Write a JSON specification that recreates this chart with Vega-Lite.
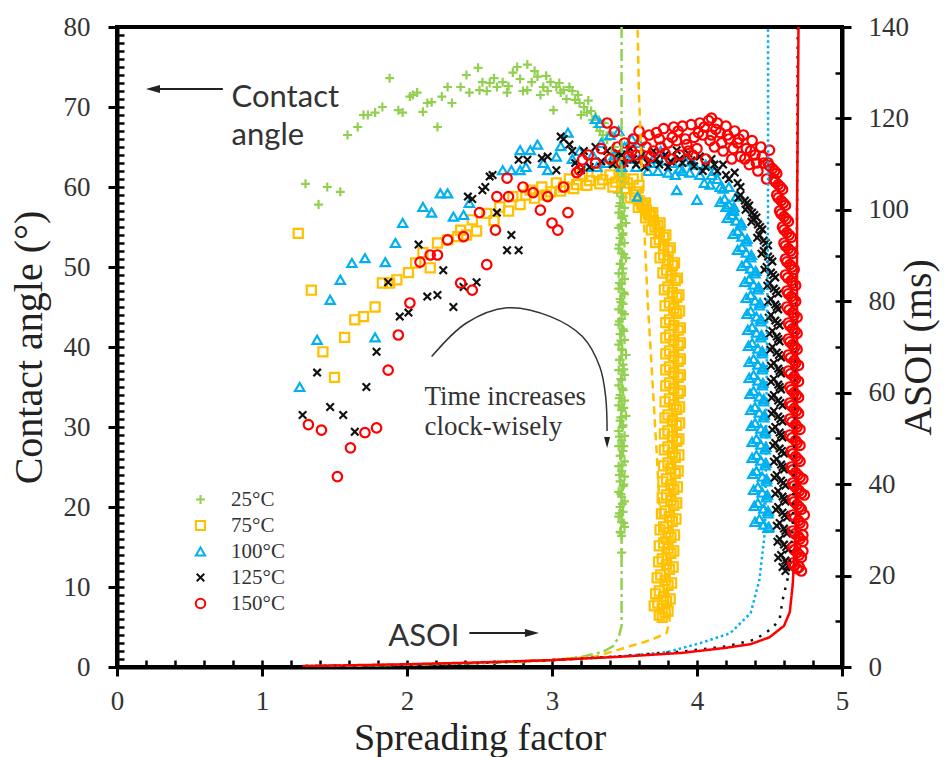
{
  "$schema": "https://vega.github.io/schema/vega-lite/v6.json",
  "width": 725,
  "height": 640,
  "autosize": {"type": "none"},
  "padding": {"left": 117, "top": 27, "right": 102, "bottom": 90},
  "background": "white",
  "config": {
    "view": {"stroke": "#000", "strokeWidth": 4},
    "axis": {
      "grid": false,
      "domainColor": "#000",
      "domainWidth": 4,
      "tickColor": "#000",
      "tickWidth": 3,
      "labelFont": "Liberation Serif",
      "labelFontSize": 27,
      "labelColor": "#333",
      "titleFont": "Liberation Serif",
      "titleFontSize": 40,
      "titleFontWeight": "normal",
      "titleColor": "#222"
    }
  },
  "datasets": {
    "pts": [
      {"T":"25°C","x":1.30,"y":60.4},{"T":"25°C","x":1.45,"y":60.0},{"T":"25°C","x":1.54,"y":59.4},{"T":"25°C","x":1.39,"y":57.8},
      {"T":"25°C","x":1.59,"y":66.5},{"T":"25°C","x":1.66,"y":67.5},{"T":"25°C","x":1.70,"y":69.0},{"T":"25°C","x":1.73,"y":69.0},{"T":"25°C","x":1.78,"y":69.3},{"T":"25°C","x":1.83,"y":70.0},{"T":"25°C","x":1.88,"y":73.6},{"T":"25°C","x":1.94,"y":69.6},{"T":"25°C","x":1.97,"y":69.3},{"T":"25°C","x":2.02,"y":71.3},{"T":"25°C","x":2.04,"y":71.5},{"T":"25°C","x":2.07,"y":71.8},{"T":"25°C","x":2.11,"y":69.4},{"T":"25°C","x":2.14,"y":70.5},{"T":"25°C","x":2.17,"y":70.6},{"T":"25°C","x":2.21,"y":67.5},{"T":"25°C","x":2.24,"y":71.3},{"T":"25°C","x":2.28,"y":72.5},{"T":"25°C","x":2.31,"y":70.5},{"T":"25°C","x":2.37,"y":72.5},{"T":"25°C","x":2.41,"y":74.0},{"T":"25°C","x":2.43,"y":71.8},{"T":"25°C","x":2.49,"y":74.9},{"T":"25°C","x":2.50,"y":72.1},{"T":"25°C","x":2.52,"y":73.1},{"T":"25°C","x":2.55,"y":72.0},{"T":"25°C","x":2.57,"y":73.0},{"T":"25°C","x":2.60,"y":73.6},{"T":"25°C","x":2.62,"y":72.5},{"T":"25°C","x":2.66,"y":73.1},{"T":"25°C","x":2.69,"y":71.8},{"T":"25°C","x":2.70,"y":72.6},{"T":"25°C","x":2.73,"y":74.3},{"T":"25°C","x":2.76,"y":75.0},{"T":"25°C","x":2.78,"y":73.5},{"T":"25°C","x":2.80,"y":72.0},{"T":"25°C","x":2.83,"y":75.3},{"T":"25°C","x":2.83,"y":72.1},{"T":"25°C","x":2.86,"y":73.1},{"T":"25°C","x":2.88,"y":74.5},{"T":"25°C","x":2.90,"y":73.8},{"T":"25°C","x":2.92,"y":71.5},{"T":"25°C","x":2.94,"y":72.5},{"T":"25°C","x":2.96,"y":73.9},{"T":"25°C","x":2.97,"y":72.0},{"T":"25°C","x":2.99,"y":73.1},{"T":"25°C","x":3.01,"y":69.6},{"T":"25°C","x":3.03,"y":72.5},{"T":"25°C","x":3.05,"y":73.0},{"T":"25°C","x":3.06,"y":71.8},{"T":"25°C","x":3.08,"y":72.1},{"T":"25°C","x":3.10,"y":71.0},{"T":"25°C","x":3.12,"y":72.5},{"T":"25°C","x":3.14,"y":72.0},{"T":"25°C","x":3.16,"y":70.9},{"T":"25°C","x":3.18,"y":71.5},{"T":"25°C","x":3.19,"y":70.5},{"T":"25°C","x":3.20,"y":69.0},{"T":"25°C","x":3.22,"y":70.0},{"T":"25°C","x":3.24,"y":69.3},{"T":"25°C","x":3.25,"y":70.8},{"T":"25°C","x":3.27,"y":69.5},{"T":"25°C","x":3.28,"y":68.4},{"T":"25°C","x":3.30,"y":68.8},{"T":"25°C","x":3.31,"y":67.5},{"T":"25°C","x":3.33,"y":67.0},{"T":"25°C","x":3.35,"y":66.5},{"T":"25°C","x":3.36,"y":68.0},{"T":"25°C","x":3.38,"y":65.9},{"T":"25°C","x":3.40,"y":66.8},{"T":"25°C","x":3.41,"y":64.2},{"T":"25°C","x":3.42,"y":63.4},{"T":"25°C","x":3.43,"y":65.0},
      {"T":"25°C","x":3.45,"y":64.0},{"T":"25°C","x":3.47,"y":63.2},{"T":"25°C","x":3.44,"y":62.5},{"T":"25°C","x":3.49,"y":62.0},{"T":"25°C","x":3.46,"y":61.2},{"T":"25°C","x":3.50,"y":60.6},{"T":"25°C","x":3.47,"y":60.0},{"T":"25°C","x":3.45,"y":59.3},{"T":"25°C","x":3.49,"y":58.7},{"T":"25°C","x":3.47,"y":58.0},{"T":"25°C","x":3.50,"y":57.4},{"T":"25°C","x":3.46,"y":56.8},{"T":"25°C","x":3.48,"y":56.1},{"T":"25°C","x":3.51,"y":55.5},{"T":"25°C","x":3.46,"y":54.9},{"T":"25°C","x":3.49,"y":54.2},{"T":"25°C","x":3.47,"y":53.6},{"T":"25°C","x":3.50,"y":53.0},{"T":"25°C","x":3.46,"y":52.3},{"T":"25°C","x":3.48,"y":51.7},{"T":"25°C","x":3.51,"y":51.1},{"T":"25°C","x":3.47,"y":50.4},{"T":"25°C","x":3.49,"y":49.8},{"T":"25°C","x":3.46,"y":49.2},{"T":"25°C","x":3.50,"y":48.5},{"T":"25°C","x":3.48,"y":47.9},{"T":"25°C","x":3.46,"y":47.3},{"T":"25°C","x":3.50,"y":46.6},{"T":"25°C","x":3.47,"y":46.0},{"T":"25°C","x":3.49,"y":45.4},{"T":"25°C","x":3.46,"y":44.7},{"T":"25°C","x":3.50,"y":44.1},{"T":"25°C","x":3.48,"y":43.5},{"T":"25°C","x":3.46,"y":42.8},{"T":"25°C","x":3.49,"y":42.2},{"T":"25°C","x":3.47,"y":41.6},{"T":"25°C","x":3.50,"y":40.9},{"T":"25°C","x":3.46,"y":40.3},{"T":"25°C","x":3.48,"y":39.7},{"T":"25°C","x":3.51,"y":39.0},{"T":"25°C","x":3.47,"y":38.4},{"T":"25°C","x":3.49,"y":37.8},{"T":"25°C","x":3.46,"y":37.1},{"T":"25°C","x":3.50,"y":36.5},{"T":"25°C","x":3.48,"y":35.9},{"T":"25°C","x":3.46,"y":35.2},{"T":"25°C","x":3.49,"y":34.6},{"T":"25°C","x":3.47,"y":34.0},{"T":"25°C","x":3.50,"y":33.3},{"T":"25°C","x":3.46,"y":32.7},{"T":"25°C","x":3.48,"y":32.1},{"T":"25°C","x":3.51,"y":31.4},{"T":"25°C","x":3.47,"y":30.8},{"T":"25°C","x":3.49,"y":30.2},{"T":"25°C","x":3.46,"y":29.5},{"T":"25°C","x":3.50,"y":28.9},{"T":"25°C","x":3.48,"y":28.3},{"T":"25°C","x":3.46,"y":27.6},{"T":"25°C","x":3.49,"y":27.0},{"T":"25°C","x":3.47,"y":26.4},{"T":"25°C","x":3.50,"y":25.7},{"T":"25°C","x":3.46,"y":25.1},{"T":"25°C","x":3.48,"y":24.5},{"T":"25°C","x":3.50,"y":23.8},{"T":"25°C","x":3.47,"y":23.2},{"T":"25°C","x":3.49,"y":22.6},{"T":"25°C","x":3.46,"y":21.9},{"T":"25°C","x":3.48,"y":21.3},{"T":"25°C","x":3.50,"y":20.7},{"T":"25°C","x":3.47,"y":20.0},{"T":"25°C","x":3.49,"y":19.4},{"T":"25°C","x":3.46,"y":18.8},{"T":"25°C","x":3.48,"y":18.1},{"T":"25°C","x":3.50,"y":17.5},{"T":"25°C","x":3.47,"y":16.9},{"T":"25°C","x":3.48,"y":16.4},{"T":"25°C","x":3.48,"y":14.3},
      {"T":"25°C","x":3.485,"y":63.6},{"T":"25°C","x":3.465,"y":62.4},{"T":"25°C","x":3.495,"y":61.2},{"T":"25°C","x":3.475,"y":60.0},{"T":"25°C","x":3.485,"y":58.8},{"T":"25°C","x":3.465,"y":57.6},{"T":"25°C","x":3.495,"y":56.4},{"T":"25°C","x":3.475,"y":55.2},{"T":"25°C","x":3.485,"y":54.0},{"T":"25°C","x":3.465,"y":52.8},{"T":"25°C","x":3.495,"y":51.6},{"T":"25°C","x":3.475,"y":50.4},{"T":"25°C","x":3.485,"y":49.2},{"T":"25°C","x":3.465,"y":48.0},{"T":"25°C","x":3.495,"y":46.8},{"T":"25°C","x":3.475,"y":45.6},{"T":"25°C","x":3.485,"y":44.4},{"T":"25°C","x":3.465,"y":43.2},{"T":"25°C","x":3.495,"y":42.0},{"T":"25°C","x":3.475,"y":40.8},{"T":"25°C","x":3.485,"y":39.6},{"T":"25°C","x":3.465,"y":38.4},{"T":"25°C","x":3.495,"y":37.2},{"T":"25°C","x":3.475,"y":36.0},{"T":"25°C","x":3.485,"y":34.8},{"T":"25°C","x":3.465,"y":33.6},{"T":"25°C","x":3.495,"y":32.4},{"T":"25°C","x":3.475,"y":31.2},{"T":"25°C","x":3.485,"y":30.0},{"T":"25°C","x":3.465,"y":28.8},{"T":"25°C","x":3.495,"y":27.6},{"T":"25°C","x":3.475,"y":26.4},{"T":"25°C","x":3.485,"y":25.2},{"T":"25°C","x":3.465,"y":24.0},{"T":"25°C","x":3.495,"y":22.8},{"T":"25°C","x":3.475,"y":21.6},{"T":"25°C","x":3.485,"y":20.4},{"T":"25°C","x":3.465,"y":19.2},{"T":"25°C","x":3.495,"y":18.0},{"T":"25°C","x":3.475,"y":16.8},

      {"T":"75°C","x":1.25,"y":54.2},{"T":"75°C","x":1.34,"y":47.1},{"T":"75°C","x":1.42,"y":39.4},{"T":"75°C","x":1.50,"y":36.2},{"T":"75°C","x":1.57,"y":41.2},{"T":"75°C","x":1.64,"y":43.4},{"T":"75°C","x":1.70,"y":43.8},{"T":"75°C","x":1.78,"y":45.0},{"T":"75°C","x":1.83,"y":48.0},{"T":"75°C","x":1.88,"y":48.0},{"T":"75°C","x":1.93,"y":48.4},{"T":"75°C","x":2.01,"y":49.3},{"T":"75°C","x":2.06,"y":50.5},{"T":"75°C","x":2.11,"y":51.8},{"T":"75°C","x":2.16,"y":49.9},{"T":"75°C","x":2.21,"y":53.0},{"T":"75°C","x":2.28,"y":53.4},{"T":"75°C","x":2.35,"y":53.8},{"T":"75°C","x":2.41,"y":54.0},
      {"T":"75°C","x":2.37,"y":54.6},{"T":"75°C","x":2.45,"y":55.9},{"T":"75°C","x":2.48,"y":54.5},{"T":"75°C","x":2.55,"y":56.7},{"T":"75°C","x":2.60,"y":55.8},{"T":"75°C","x":2.64,"y":57.5},{"T":"75°C","x":2.70,"y":57.0},{"T":"75°C","x":2.73,"y":58.8},{"T":"75°C","x":2.78,"y":57.8},{"T":"75°C","x":2.82,"y":59.0},{"T":"75°C","x":2.85,"y":59.6},{"T":"75°C","x":2.88,"y":58.6},{"T":"75°C","x":2.93,"y":60.0},{"T":"75°C","x":2.96,"y":59.0},{"T":"75°C","x":2.99,"y":59.4},{"T":"75°C","x":3.03,"y":60.5},{"T":"75°C","x":3.06,"y":59.5},{"T":"75°C","x":3.08,"y":60.0},{"T":"75°C","x":3.12,"y":61.0},{"T":"75°C","x":3.15,"y":59.8},{"T":"75°C","x":3.17,"y":60.3},{"T":"75°C","x":3.21,"y":61.6},{"T":"75°C","x":3.24,"y":60.2},{"T":"75°C","x":3.26,"y":60.8},{"T":"75°C","x":3.31,"y":61.8},{"T":"75°C","x":3.33,"y":60.4},{"T":"75°C","x":3.35,"y":60.9},{"T":"75°C","x":3.40,"y":61.5},{"T":"75°C","x":3.42,"y":60.0},{"T":"75°C","x":3.44,"y":60.6},{"T":"75°C","x":3.48,"y":61.3},{"T":"75°C","x":3.50,"y":59.8},{"T":"75°C","x":3.52,"y":60.5},{"T":"75°C","x":3.56,"y":61.0},{"T":"75°C","x":3.58,"y":59.4},{"T":"75°C","x":3.60,"y":60.2},
      {"T":"75°C","x":3.57,"y":59.0},{"T":"75°C","x":3.60,"y":58.3},{"T":"75°C","x":3.63,"y":57.7},
      {"T":"75°C","x":3.62,"y":57.8},{"T":"75°C","x":3.65,"y":57.1},{"T":"75°C","x":3.68,"y":56.5},
      {"T":"75°C","x":3.67,"y":56.5},{"T":"75°C","x":3.70,"y":55.8},{"T":"75°C","x":3.73,"y":55.2},
      {"T":"75°C","x":3.71,"y":55.0},{"T":"75°C","x":3.74,"y":54.3},{"T":"75°C","x":3.77,"y":53.7},
      {"T":"75°C","x":3.74,"y":53.4},{"T":"75°C","x":3.77,"y":52.7},{"T":"75°C","x":3.80,"y":52.1},
      {"T":"75°C","x":3.77,"y":51.5},{"T":"75°C","x":3.80,"y":50.8},{"T":"75°C","x":3.83,"y":50.2},
      {"T":"75°C","x":3.79,"y":49.6},{"T":"75°C","x":3.82,"y":48.9},{"T":"75°C","x":3.85,"y":48.3},
      {"T":"75°C","x":3.80,"y":47.5},{"T":"75°C","x":3.83,"y":46.8},{"T":"75°C","x":3.86,"y":46.2},
      {"T":"75°C","x":3.81,"y":45.5},{"T":"75°C","x":3.84,"y":44.8},{"T":"75°C","x":3.86,"y":44.2},
      {"T":"75°C","x":3.81,"y":43.4},{"T":"75°C","x":3.84,"y":42.7},{"T":"75°C","x":3.87,"y":42.1},
      {"T":"75°C","x":3.81,"y":41.5},{"T":"75°C","x":3.84,"y":40.8},{"T":"75°C","x":3.87,"y":40.2},
      {"T":"75°C","x":3.81,"y":39.5},{"T":"75°C","x":3.84,"y":38.8},{"T":"75°C","x":3.87,"y":38.2},
      {"T":"75°C","x":3.81,"y":37.5},{"T":"75°C","x":3.84,"y":36.8},{"T":"75°C","x":3.87,"y":36.2},
      {"T":"75°C","x":3.81,"y":35.5},{"T":"75°C","x":3.84,"y":34.8},{"T":"75°C","x":3.87,"y":34.2},
      {"T":"75°C","x":3.81,"y":33.5},{"T":"75°C","x":3.84,"y":32.8},{"T":"75°C","x":3.86,"y":32.2},
      {"T":"75°C","x":3.80,"y":31.5},{"T":"75°C","x":3.83,"y":30.8},{"T":"75°C","x":3.86,"y":30.2},
      {"T":"75°C","x":3.80,"y":29.5},{"T":"75°C","x":3.83,"y":28.8},{"T":"75°C","x":3.86,"y":28.2},
      {"T":"75°C","x":3.80,"y":27.5},{"T":"75°C","x":3.83,"y":26.8},{"T":"75°C","x":3.85,"y":26.2},
      {"T":"75°C","x":3.80,"y":25.5},{"T":"75°C","x":3.82,"y":24.8},{"T":"75°C","x":3.85,"y":24.2},
      {"T":"75°C","x":3.79,"y":23.5},{"T":"75°C","x":3.82,"y":22.8},{"T":"75°C","x":3.84,"y":22.2},
      {"T":"75°C","x":3.79,"y":21.5},{"T":"75°C","x":3.82,"y":20.8},{"T":"75°C","x":3.84,"y":20.2},
      {"T":"75°C","x":3.78,"y":19.5},{"T":"75°C","x":3.81,"y":18.8},{"T":"75°C","x":3.83,"y":18.2},
      {"T":"75°C","x":3.77,"y":17.5},{"T":"75°C","x":3.80,"y":16.8},{"T":"75°C","x":3.82,"y":16.2},
      {"T":"75°C","x":3.77,"y":15.5},{"T":"75°C","x":3.80,"y":14.8},{"T":"75°C","x":3.82,"y":14.2},
      {"T":"75°C","x":3.76,"y":13.5},{"T":"75°C","x":3.79,"y":12.8},{"T":"75°C","x":3.81,"y":12.2},
      {"T":"75°C","x":3.75,"y":11.5},{"T":"75°C","x":3.78,"y":10.8},{"T":"75°C","x":3.80,"y":10.2},
      {"T":"75°C","x":3.74,"y":9.5},{"T":"75°C","x":3.77,"y":8.8},{"T":"75°C","x":3.79,"y":8.2},
      {"T":"75°C","x":3.73,"y":8.0},{"T":"75°C","x":3.76,"y":7.3},{"T":"75°C","x":3.78,"y":6.8},
      {"T":"75°C","x":3.74,"y":6.5},{"T":"75°C","x":3.76,"y":6.2},
      {"T":"75°C","x":3.54,"y":58.65},{"T":"75°C","x":3.645,"y":58.0},{"T":"75°C","x":3.595,"y":57.45},{"T":"75°C","x":3.695,"y":56.8},{"T":"75°C","x":3.645,"y":56.15},{"T":"75°C","x":3.745,"y":55.5},{"T":"75°C","x":3.685,"y":54.65},{"T":"75°C","x":3.785,"y":54.0},{"T":"75°C","x":3.715,"y":53.05},{"T":"75°C","x":3.815,"y":52.4},{"T":"75°C","x":3.745,"y":51.15},{"T":"75°C","x":3.845,"y":50.5},{"T":"75°C","x":3.765,"y":49.25},{"T":"75°C","x":3.865,"y":48.6},{"T":"75°C","x":3.775,"y":47.15},{"T":"75°C","x":3.875,"y":46.5},{"T":"75°C","x":3.78,"y":45.15},{"T":"75°C","x":3.88,"y":44.5},{"T":"75°C","x":3.785,"y":43.05},{"T":"75°C","x":3.885,"y":42.4},{"T":"75°C","x":3.785,"y":41.15},{"T":"75°C","x":3.885,"y":40.5},{"T":"75°C","x":3.785,"y":39.15},{"T":"75°C","x":3.885,"y":38.5},{"T":"75°C","x":3.785,"y":37.15},{"T":"75°C","x":3.885,"y":36.5},{"T":"75°C","x":3.785,"y":35.15},{"T":"75°C","x":3.885,"y":34.5},{"T":"75°C","x":3.78,"y":33.15},{"T":"75°C","x":3.88,"y":32.5},{"T":"75°C","x":3.78,"y":31.15},{"T":"75°C","x":3.88,"y":30.5},{"T":"75°C","x":3.775,"y":29.15},{"T":"75°C","x":3.875,"y":28.5},{"T":"75°C","x":3.775,"y":27.15},{"T":"75°C","x":3.875,"y":26.5},{"T":"75°C","x":3.77,"y":25.15},{"T":"75°C","x":3.87,"y":24.5},{"T":"75°C","x":3.765,"y":23.15},{"T":"75°C","x":3.865,"y":22.5},{"T":"75°C","x":3.76,"y":21.15},{"T":"75°C","x":3.86,"y":20.5},{"T":"75°C","x":3.755,"y":19.15},{"T":"75°C","x":3.855,"y":18.5},{"T":"75°C","x":3.745,"y":17.15},{"T":"75°C","x":3.845,"y":16.5},{"T":"75°C","x":3.74,"y":15.15},{"T":"75°C","x":3.84,"y":14.5},{"T":"75°C","x":3.735,"y":13.15},{"T":"75°C","x":3.835,"y":12.5},{"T":"75°C","x":3.725,"y":11.15},{"T":"75°C","x":3.825,"y":10.5},{"T":"75°C","x":3.715,"y":9.15},{"T":"75°C","x":3.815,"y":8.5},{"T":"75°C","x":3.705,"y":7.65},{"T":"75°C","x":3.80,"y":7.0},

      {"T":"100°C","x":1.26,"y":35.0},{"T":"100°C","x":1.38,"y":40.9},{"T":"100°C","x":1.47,"y":45.9},{"T":"100°C","x":1.54,"y":48.4},{"T":"100°C","x":1.62,"y":50.5},{"T":"100°C","x":1.71,"y":51.1},{"T":"100°C","x":1.78,"y":41.2},{"T":"100°C","x":1.85,"y":50.6},{"T":"100°C","x":1.92,"y":53.0},{"T":"100°C","x":1.97,"y":55.5},{"T":"100°C","x":2.11,"y":57.5},{"T":"100°C","x":2.17,"y":56.8},{"T":"100°C","x":2.23,"y":59.2},{"T":"100°C","x":2.28,"y":59.2},{"T":"100°C","x":2.32,"y":56.3},{"T":"100°C","x":2.39,"y":56.5},{"T":"100°C","x":2.43,"y":58.0},{"T":"100°C","x":2.66,"y":62.1},{"T":"100°C","x":2.72,"y":62.1},{"T":"100°C","x":2.78,"y":62.1},{"T":"100°C","x":2.78,"y":64.6},{"T":"100°C","x":2.85,"y":64.6},{"T":"100°C","x":2.82,"y":62.5},{"T":"100°C","x":2.90,"y":65.3},{"T":"100°C","x":2.94,"y":63.0},{"T":"100°C","x":2.97,"y":62.1},{"T":"100°C","x":3.03,"y":63.8},{"T":"100°C","x":3.06,"y":65.1},{"T":"100°C","x":3.11,"y":66.8},{"T":"100°C","x":3.14,"y":63.5},{"T":"100°C","x":3.19,"y":64.5},
      {"T":"100°C","x":3.24,"y":62.5},{"T":"100°C","x":3.28,"y":64.0},{"T":"100°C","x":3.30,"y":68.5},{"T":"100°C","x":3.31,"y":62.5},{"T":"100°C","x":3.33,"y":68.0},{"T":"100°C","x":3.34,"y":65.5},{"T":"100°C","x":3.37,"y":63.0},{"T":"100°C","x":3.40,"y":66.5},{"T":"100°C","x":3.43,"y":64.0},{"T":"100°C","x":3.46,"y":67.0},{"T":"100°C","x":3.48,"y":62.5},{"T":"100°C","x":3.50,"y":65.0},{"T":"100°C","x":3.52,"y":63.5},{"T":"100°C","x":3.55,"y":66.0},{"T":"100°C","x":3.59,"y":58.8},{"T":"100°C","x":3.58,"y":62.5},{"T":"100°C","x":3.62,"y":64.0},{"T":"100°C","x":3.66,"y":62.0},{"T":"100°C","x":3.70,"y":63.5},{"T":"100°C","x":3.73,"y":62.0},{"T":"100°C","x":3.77,"y":63.3},{"T":"100°C","x":3.80,"y":61.8},{"T":"100°C","x":3.83,"y":63.0},{"T":"100°C","x":3.86,"y":59.6},{"T":"100°C","x":3.88,"y":62.3},{"T":"100°C","x":3.92,"y":63.2},{"T":"100°C","x":3.95,"y":61.8},{"T":"100°C","x":4.00,"y":58.4},{"T":"100°C","x":3.98,"y":62.8},{"T":"100°C","x":4.02,"y":61.5},{"T":"100°C","x":4.06,"y":62.8},{"T":"100°C","x":4.09,"y":60.3},{"T":"100°C","x":4.12,"y":62.0},{"T":"100°C","x":4.14,"y":61.0},{"T":"100°C","x":4.18,"y":59.8},{"T":"100°C","x":4.20,"y":57.5},{"T":"100°C","x":4.22,"y":60.0},{"T":"100°C","x":4.25,"y":57.0},{"T":"100°C","x":4.27,"y":58.8},
      {"T":"100°C","x":3.60,"y":65.5},{"T":"100°C","x":3.68,"y":63.0},{"T":"100°C","x":3.75,"y":64.5},{"T":"100°C","x":3.85,"y":61.5},{"T":"100°C","x":3.90,"y":62.0},{"T":"100°C","x":4.05,"y":60.5},{"T":"100°C","x":4.10,"y":61.5},{"T":"100°C","x":4.16,"y":60.0},
      {"T":"100°C","x":4.19,"y":58.5},{"T":"100°C","x":4.22,"y":57.8},{"T":"100°C","x":4.25,"y":57.2},
      {"T":"100°C","x":4.24,"y":56.5},{"T":"100°C","x":4.27,"y":55.8},{"T":"100°C","x":4.30,"y":55.2},
      {"T":"100°C","x":4.28,"y":54.5},{"T":"100°C","x":4.31,"y":53.8},{"T":"100°C","x":4.34,"y":53.2},
      {"T":"100°C","x":4.31,"y":52.5},{"T":"100°C","x":4.34,"y":51.8},{"T":"100°C","x":4.37,"y":51.2},
      {"T":"100°C","x":4.34,"y":50.5},{"T":"100°C","x":4.37,"y":49.8},{"T":"100°C","x":4.40,"y":49.2},
      {"T":"100°C","x":4.36,"y":48.5},{"T":"100°C","x":4.39,"y":47.8},{"T":"100°C","x":4.42,"y":47.2},
      {"T":"100°C","x":4.37,"y":46.5},{"T":"100°C","x":4.40,"y":45.8},{"T":"100°C","x":4.43,"y":45.2},
      {"T":"100°C","x":4.37,"y":44.5},{"T":"100°C","x":4.41,"y":43.8},{"T":"100°C","x":4.44,"y":43.2},
      {"T":"100°C","x":4.38,"y":42.5},{"T":"100°C","x":4.41,"y":41.8},{"T":"100°C","x":4.44,"y":41.2},
      {"T":"100°C","x":4.38,"y":40.5},{"T":"100°C","x":4.42,"y":39.8},{"T":"100°C","x":4.45,"y":39.2},
      {"T":"100°C","x":4.39,"y":38.5},{"T":"100°C","x":4.42,"y":37.8},{"T":"100°C","x":4.45,"y":37.2},
      {"T":"100°C","x":4.39,"y":36.5},{"T":"100°C","x":4.42,"y":35.8},{"T":"100°C","x":4.45,"y":35.2},
      {"T":"100°C","x":4.39,"y":34.5},{"T":"100°C","x":4.43,"y":33.8},{"T":"100°C","x":4.46,"y":33.2},
      {"T":"100°C","x":4.40,"y":32.5},{"T":"100°C","x":4.43,"y":31.8},{"T":"100°C","x":4.46,"y":31.2},
      {"T":"100°C","x":4.40,"y":30.5},{"T":"100°C","x":4.44,"y":29.8},{"T":"100°C","x":4.47,"y":29.2},
      {"T":"100°C","x":4.41,"y":28.5},{"T":"100°C","x":4.44,"y":27.8},{"T":"100°C","x":4.47,"y":27.2},
      {"T":"100°C","x":4.41,"y":26.5},{"T":"100°C","x":4.44,"y":25.8},{"T":"100°C","x":4.47,"y":25.2},
      {"T":"100°C","x":4.41,"y":24.5},{"T":"100°C","x":4.45,"y":23.8},{"T":"100°C","x":4.48,"y":23.2},
      {"T":"100°C","x":4.42,"y":22.5},{"T":"100°C","x":4.45,"y":21.8},{"T":"100°C","x":4.48,"y":21.2},
      {"T":"100°C","x":4.42,"y":20.5},{"T":"100°C","x":4.46,"y":19.8},{"T":"100°C","x":4.49,"y":19.2},
      {"T":"100°C","x":4.43,"y":18.5},{"T":"100°C","x":4.46,"y":17.8},{"T":"100°C","x":4.49,"y":17.4},
      {"T":"100°C","x":4.16,"y":58.15},{"T":"100°C","x":4.255,"y":57.5},{"T":"100°C","x":4.21,"y":56.15},{"T":"100°C","x":4.305,"y":55.5},{"T":"100°C","x":4.25,"y":54.15},{"T":"100°C","x":4.345,"y":53.5},{"T":"100°C","x":4.28,"y":52.15},{"T":"100°C","x":4.375,"y":51.5},{"T":"100°C","x":4.31,"y":50.15},{"T":"100°C","x":4.405,"y":49.5},{"T":"100°C","x":4.33,"y":48.15},{"T":"100°C","x":4.425,"y":47.5},{"T":"100°C","x":4.34,"y":46.15},{"T":"100°C","x":4.435,"y":45.5},{"T":"100°C","x":4.345,"y":44.15},{"T":"100°C","x":4.44,"y":43.5},{"T":"100°C","x":4.35,"y":42.15},{"T":"100°C","x":4.445,"y":41.5},{"T":"100°C","x":4.355,"y":40.15},{"T":"100°C","x":4.45,"y":39.5},{"T":"100°C","x":4.36,"y":38.15},{"T":"100°C","x":4.455,"y":37.5},{"T":"100°C","x":4.36,"y":36.15},{"T":"100°C","x":4.455,"y":35.5},{"T":"100°C","x":4.365,"y":34.15},{"T":"100°C","x":4.46,"y":33.5},{"T":"100°C","x":4.37,"y":32.15},{"T":"100°C","x":4.465,"y":31.5},{"T":"100°C","x":4.375,"y":30.15},{"T":"100°C","x":4.47,"y":29.5},{"T":"100°C","x":4.38,"y":28.15},{"T":"100°C","x":4.475,"y":27.5},{"T":"100°C","x":4.38,"y":26.15},{"T":"100°C","x":4.475,"y":25.5},{"T":"100°C","x":4.385,"y":24.15},{"T":"100°C","x":4.48,"y":23.5},{"T":"100°C","x":4.39,"y":22.15},{"T":"100°C","x":4.485,"y":21.5},{"T":"100°C","x":4.395,"y":20.15},{"T":"100°C","x":4.49,"y":19.5},{"T":"100°C","x":4.40,"y":18.15},{"T":"100°C","x":4.495,"y":17.5},

      {"T":"125°C","x":1.28,"y":31.5},{"T":"125°C","x":1.38,"y":36.8},{"T":"125°C","x":1.47,"y":32.5},{"T":"125°C","x":1.56,"y":31.5},{"T":"125°C","x":1.64,"y":29.4},{"T":"125°C","x":1.72,"y":35.0},{"T":"125°C","x":1.79,"y":39.4},{"T":"125°C","x":1.87,"y":48.1},{"T":"125°C","x":1.95,"y":43.8},{"T":"125°C","x":2.01,"y":44.3},{"T":"125°C","x":2.08,"y":52.8},{"T":"125°C","x":2.14,"y":46.3},{"T":"125°C","x":2.21,"y":46.5},{"T":"125°C","x":2.25,"y":49.6},{"T":"125°C","x":2.32,"y":45.0},{"T":"125°C","x":2.39,"y":47.5},{"T":"125°C","x":2.48,"y":48.1},{"T":"125°C","x":2.69,"y":52.1},{"T":"125°C","x":2.72,"y":54.0},{"T":"125°C","x":2.77,"y":52.1},{"T":"125°C","x":2.42,"y":58.8},{"T":"125°C","x":2.45,"y":58.5},{"T":"125°C","x":2.52,"y":59.6},{"T":"125°C","x":2.54,"y":60.0},{"T":"125°C","x":2.57,"y":61.3},{"T":"125°C","x":2.59,"y":61.5},{"T":"125°C","x":2.62,"y":56.8},{"T":"125°C","x":2.77,"y":63.4},{"T":"125°C","x":2.83,"y":63.4},{"T":"125°C","x":2.93,"y":63.6},{"T":"125°C","x":2.97,"y":63.8},{"T":"125°C","x":3.03,"y":62.1},{"T":"125°C","x":3.06,"y":66.3},{"T":"125°C","x":3.08,"y":66.0},{"T":"125°C","x":3.12,"y":65.3},{"T":"125°C","x":3.14,"y":64.5},{"T":"125°C","x":3.20,"y":62.1},
      {"T":"125°C","x":3.16,"y":63.0},{"T":"125°C","x":3.22,"y":64.5},{"T":"125°C","x":3.26,"y":62.5},{"T":"125°C","x":3.30,"y":65.0},{"T":"125°C","x":3.34,"y":63.2},{"T":"125°C","x":3.38,"y":64.5},{"T":"125°C","x":3.42,"y":62.8},{"T":"125°C","x":3.46,"y":64.2},{"T":"125°C","x":3.50,"y":63.0},{"T":"125°C","x":3.54,"y":64.8},{"T":"125°C","x":3.58,"y":62.8},{"T":"125°C","x":3.62,"y":64.0},{"T":"125°C","x":3.66,"y":63.0},{"T":"125°C","x":3.70,"y":64.5},{"T":"125°C","x":3.74,"y":62.8},{"T":"125°C","x":3.78,"y":64.0},{"T":"125°C","x":3.82,"y":63.2},{"T":"125°C","x":3.86,"y":64.6},{"T":"125°C","x":3.90,"y":63.0},{"T":"125°C","x":3.94,"y":64.2},{"T":"125°C","x":3.98,"y":62.6},{"T":"125°C","x":4.02,"y":63.8},{"T":"125°C","x":4.06,"y":62.5},{"T":"125°C","x":4.10,"y":63.5},{"T":"125°C","x":4.14,"y":62.0},{"T":"125°C","x":4.18,"y":62.8},{"T":"125°C","x":4.22,"y":61.0},{"T":"125°C","x":4.26,"y":61.8},{"T":"125°C","x":4.30,"y":60.0},
      {"T":"125°C","x":3.48,"y":64.0},{"T":"125°C","x":3.56,"y":63.5},{"T":"125°C","x":3.64,"y":62.5},{"T":"125°C","x":3.72,"y":63.5},{"T":"125°C","x":3.80,"y":62.5},{"T":"125°C","x":3.88,"y":63.5},{"T":"125°C","x":3.96,"y":63.3},{"T":"125°C","x":4.04,"y":62.0},{"T":"125°C","x":4.12,"y":62.8},{"T":"125°C","x":4.20,"y":61.5},{"T":"125°C","x":4.28,"y":60.5},
      {"T":"125°C","x":4.30,"y":59.0},{"T":"125°C","x":4.33,"y":58.3},{"T":"125°C","x":4.36,"y":57.7},
      {"T":"125°C","x":4.35,"y":57.5},{"T":"125°C","x":4.38,"y":56.8},{"T":"125°C","x":4.41,"y":56.2},
      {"T":"125°C","x":4.39,"y":56.0},{"T":"125°C","x":4.42,"y":55.3},{"T":"125°C","x":4.45,"y":54.7},
      {"T":"125°C","x":4.43,"y":54.0},{"T":"125°C","x":4.46,"y":53.3},{"T":"125°C","x":4.49,"y":52.7},
      {"T":"125°C","x":4.46,"y":52.0},{"T":"125°C","x":4.49,"y":51.3},{"T":"125°C","x":4.52,"y":50.7},
      {"T":"125°C","x":4.48,"y":50.0},{"T":"125°C","x":4.51,"y":49.3},{"T":"125°C","x":4.54,"y":48.7},
      {"T":"125°C","x":4.50,"y":48.0},{"T":"125°C","x":4.53,"y":47.3},{"T":"125°C","x":4.56,"y":46.7},
      {"T":"125°C","x":4.51,"y":46.0},{"T":"125°C","x":4.54,"y":45.3},{"T":"125°C","x":4.56,"y":44.7},
      {"T":"125°C","x":4.51,"y":44.0},{"T":"125°C","x":4.54,"y":43.3},{"T":"125°C","x":4.57,"y":42.7},
      {"T":"125°C","x":4.52,"y":42.0},{"T":"125°C","x":4.55,"y":41.3},{"T":"125°C","x":4.57,"y":40.7},
      {"T":"125°C","x":4.52,"y":40.0},{"T":"125°C","x":4.55,"y":39.3},{"T":"125°C","x":4.58,"y":38.7},
      {"T":"125°C","x":4.53,"y":38.0},{"T":"125°C","x":4.56,"y":37.3},{"T":"125°C","x":4.58,"y":36.7},
      {"T":"125°C","x":4.53,"y":36.0},{"T":"125°C","x":4.56,"y":35.3},{"T":"125°C","x":4.58,"y":34.7},
      {"T":"125°C","x":4.53,"y":34.0},{"T":"125°C","x":4.56,"y":33.3},{"T":"125°C","x":4.59,"y":32.7},
      {"T":"125°C","x":4.53,"y":32.0},{"T":"125°C","x":4.56,"y":31.3},{"T":"125°C","x":4.59,"y":30.7},
      {"T":"125°C","x":4.54,"y":30.0},{"T":"125°C","x":4.57,"y":29.3},{"T":"125°C","x":4.59,"y":28.7},
      {"T":"125°C","x":4.54,"y":28.0},{"T":"125°C","x":4.57,"y":27.3},{"T":"125°C","x":4.60,"y":26.7},
      {"T":"125°C","x":4.55,"y":26.0},{"T":"125°C","x":4.58,"y":25.3},{"T":"125°C","x":4.60,"y":24.7},
      {"T":"125°C","x":4.55,"y":24.0},{"T":"125°C","x":4.58,"y":23.3},{"T":"125°C","x":4.61,"y":22.7},
      {"T":"125°C","x":4.56,"y":22.0},{"T":"125°C","x":4.59,"y":21.3},{"T":"125°C","x":4.61,"y":20.7},
      {"T":"125°C","x":4.56,"y":20.0},{"T":"125°C","x":4.59,"y":19.3},{"T":"125°C","x":4.62,"y":18.7},
      {"T":"125°C","x":4.57,"y":18.0},{"T":"125°C","x":4.60,"y":17.3},{"T":"125°C","x":4.62,"y":16.7},
      {"T":"125°C","x":4.57,"y":16.0},{"T":"125°C","x":4.60,"y":15.3},{"T":"125°C","x":4.63,"y":14.7},
      {"T":"125°C","x":4.58,"y":14.0},{"T":"125°C","x":4.61,"y":13.3},{"T":"125°C","x":4.63,"y":12.7},
      {"T":"125°C","x":4.59,"y":12.5},{"T":"125°C","x":4.61,"y":12.0},
      {"T":"125°C","x":4.285,"y":58.65},{"T":"125°C","x":4.345,"y":58.0},{"T":"125°C","x":4.335,"y":57.15},{"T":"125°C","x":4.395,"y":56.5},{"T":"125°C","x":4.375,"y":55.65},{"T":"125°C","x":4.435,"y":55.0},{"T":"125°C","x":4.415,"y":53.65},{"T":"125°C","x":4.475,"y":53.0},{"T":"125°C","x":4.445,"y":51.65},{"T":"125°C","x":4.505,"y":51.0},{"T":"125°C","x":4.465,"y":49.65},{"T":"125°C","x":4.525,"y":49.0},{"T":"125°C","x":4.485,"y":47.65},{"T":"125°C","x":4.545,"y":47.0},{"T":"125°C","x":4.49,"y":45.65},{"T":"125°C","x":4.55,"y":45.0},{"T":"125°C","x":4.495,"y":43.65},{"T":"125°C","x":4.555,"y":43.0},{"T":"125°C","x":4.50,"y":41.65},{"T":"125°C","x":4.56,"y":41.0},{"T":"125°C","x":4.505,"y":39.65},{"T":"125°C","x":4.565,"y":39.0},{"T":"125°C","x":4.51,"y":37.65},{"T":"125°C","x":4.57,"y":37.0},{"T":"125°C","x":4.51,"y":35.65},{"T":"125°C","x":4.57,"y":35.0},{"T":"125°C","x":4.515,"y":33.65},{"T":"125°C","x":4.575,"y":33.0},{"T":"125°C","x":4.515,"y":31.65},{"T":"125°C","x":4.575,"y":31.0},{"T":"125°C","x":4.52,"y":29.65},{"T":"125°C","x":4.58,"y":29.0},{"T":"125°C","x":4.525,"y":27.65},{"T":"125°C","x":4.585,"y":27.0},{"T":"125°C","x":4.53,"y":25.65},{"T":"125°C","x":4.59,"y":25.0},{"T":"125°C","x":4.535,"y":23.65},{"T":"125°C","x":4.595,"y":23.0},{"T":"125°C","x":4.54,"y":21.65},{"T":"125°C","x":4.60,"y":21.0},{"T":"125°C","x":4.545,"y":19.65},{"T":"125°C","x":4.605,"y":19.0},{"T":"125°C","x":4.55,"y":17.65},{"T":"125°C","x":4.61,"y":17.0},{"T":"125°C","x":4.555,"y":15.65},{"T":"125°C","x":4.615,"y":15.0},{"T":"125°C","x":4.56,"y":13.65},{"T":"125°C","x":4.62,"y":13.0},

      {"T":"150°C","x":1.32,"y":30.3},{"T":"150°C","x":1.41,"y":29.6},{"T":"150°C","x":1.52,"y":23.8},{"T":"150°C","x":1.61,"y":27.4},{"T":"150°C","x":1.71,"y":29.3},{"T":"150°C","x":1.79,"y":29.9},{"T":"150°C","x":1.87,"y":37.1},{"T":"150°C","x":1.94,"y":41.5},{"T":"150°C","x":2.02,"y":45.5},{"T":"150°C","x":2.09,"y":50.6},{"T":"150°C","x":2.16,"y":51.5},{"T":"150°C","x":2.21,"y":51.5},{"T":"150°C","x":2.28,"y":53.4},{"T":"150°C","x":2.39,"y":53.8},{"T":"150°C","x":2.37,"y":48.0},{"T":"150°C","x":2.45,"y":47.1},{"T":"150°C","x":2.50,"y":56.8},{"T":"150°C","x":2.55,"y":50.3},{"T":"150°C","x":2.61,"y":54.6},{"T":"150°C","x":2.62,"y":58.8},{"T":"150°C","x":2.69,"y":61.1},{"T":"150°C","x":2.70,"y":58.8},{"T":"150°C","x":2.80,"y":60.0},{"T":"150°C","x":2.87,"y":59.3},{"T":"150°C","x":2.92,"y":57.1},{"T":"150°C","x":2.97,"y":58.8},{"T":"150°C","x":3.00,"y":55.5},{"T":"150°C","x":3.04,"y":54.6},{"T":"150°C","x":3.08,"y":60.0},{"T":"150°C","x":3.11,"y":56.8},{"T":"150°C","x":3.17,"y":61.8},{"T":"150°C","x":3.19,"y":62.1},{"T":"150°C","x":3.21,"y":63.4},
      {"T":"150°C","x":3.25,"y":64.0},{"T":"150°C","x":3.30,"y":63.0},{"T":"150°C","x":3.34,"y":64.8},{"T":"150°C","x":3.38,"y":68.0},{"T":"150°C","x":3.43,"y":66.9},{"T":"150°C","x":3.40,"y":63.5},{"T":"150°C","x":3.45,"y":65.0},{"T":"150°C","x":3.48,"y":63.0},{"T":"150°C","x":3.50,"y":65.5},{"T":"150°C","x":3.53,"y":63.8},{"T":"150°C","x":3.56,"y":66.0},{"T":"150°C","x":3.58,"y":64.0},{"T":"150°C","x":3.62,"y":65.8},{"T":"150°C","x":3.64,"y":63.2},{"T":"150°C","x":3.67,"y":66.5},{"T":"150°C","x":3.70,"y":64.5},{"T":"150°C","x":3.72,"y":66.8},{"T":"150°C","x":3.75,"y":65.0},{"T":"150°C","x":3.77,"y":67.3},{"T":"150°C","x":3.80,"y":65.5},{"T":"150°C","x":3.82,"y":63.5},{"T":"150°C","x":3.84,"y":67.5},{"T":"150°C","x":3.86,"y":65.8},{"T":"150°C","x":3.88,"y":64.0},{"T":"150°C","x":3.90,"y":67.6},{"T":"150°C","x":3.92,"y":66.0},{"T":"150°C","x":3.94,"y":64.5},{"T":"150°C","x":3.96,"y":67.8},{"T":"150°C","x":3.98,"y":66.2},{"T":"150°C","x":4.00,"y":64.8},{"T":"150°C","x":4.02,"y":68.0},{"T":"150°C","x":4.04,"y":66.5},{"T":"150°C","x":4.06,"y":63.5},{"T":"150°C","x":4.08,"y":68.3},{"T":"150°C","x":4.10,"y":68.6},{"T":"150°C","x":4.10,"y":66.5},{"T":"150°C","x":4.12,"y":65.0},{"T":"150°C","x":4.14,"y":68.0},{"T":"150°C","x":4.16,"y":66.8},{"T":"150°C","x":4.18,"y":64.5},{"T":"150°C","x":4.20,"y":67.6},{"T":"150°C","x":4.22,"y":66.0},{"T":"150°C","x":4.24,"y":63.5},{"T":"150°C","x":4.26,"y":67.0},{"T":"150°C","x":4.28,"y":65.5},{"T":"150°C","x":4.30,"y":63.8},{"T":"150°C","x":4.32,"y":66.5},{"T":"150°C","x":4.34,"y":64.8},{"T":"150°C","x":4.36,"y":62.8},{"T":"150°C","x":4.38,"y":65.8},{"T":"150°C","x":4.40,"y":64.0},{"T":"150°C","x":4.42,"y":62.0},{"T":"150°C","x":4.44,"y":65.0},{"T":"150°C","x":4.46,"y":63.0},{"T":"150°C","x":4.48,"y":61.0},{"T":"150°C","x":4.50,"y":64.6},
      {"T":"150°C","x":3.55,"y":64.5},{"T":"150°C","x":3.60,"y":67.0},{"T":"150°C","x":3.65,"y":65.0},{"T":"150°C","x":3.68,"y":63.8},{"T":"150°C","x":3.74,"y":66.0},{"T":"150°C","x":3.78,"y":64.2},{"T":"150°C","x":3.83,"y":66.2},{"T":"150°C","x":3.87,"y":67.0},{"T":"150°C","x":3.93,"y":65.3},{"T":"150°C","x":3.97,"y":64.0},{"T":"150°C","x":4.01,"y":66.8},{"T":"150°C","x":4.05,"y":67.5},{"T":"150°C","x":4.09,"y":65.8},{"T":"150°C","x":4.13,"y":67.2},{"T":"150°C","x":4.17,"y":65.5},{"T":"150°C","x":4.21,"y":66.5},{"T":"150°C","x":4.25,"y":64.8},{"T":"150°C","x":4.29,"y":66.0},{"T":"150°C","x":4.33,"y":63.5},{"T":"150°C","x":4.37,"y":64.5},{"T":"150°C","x":4.41,"y":63.0},{"T":"150°C","x":4.45,"y":63.8},
      {"T":"150°C","x":4.49,"y":63.0},{"T":"150°C","x":4.52,"y":62.3},{"T":"150°C","x":4.55,"y":61.7},
      {"T":"150°C","x":4.53,"y":61.0},{"T":"150°C","x":4.56,"y":60.3},{"T":"150°C","x":4.59,"y":59.7},
      {"T":"150°C","x":4.55,"y":59.0},{"T":"150°C","x":4.58,"y":58.3},{"T":"150°C","x":4.61,"y":57.7},
      {"T":"150°C","x":4.57,"y":57.0},{"T":"150°C","x":4.60,"y":56.3},{"T":"150°C","x":4.63,"y":55.7},
      {"T":"150°C","x":4.59,"y":55.0},{"T":"150°C","x":4.62,"y":54.3},{"T":"150°C","x":4.65,"y":53.7},
      {"T":"150°C","x":4.60,"y":53.0},{"T":"150°C","x":4.63,"y":52.3},{"T":"150°C","x":4.66,"y":51.7},
      {"T":"150°C","x":4.61,"y":51.0},{"T":"150°C","x":4.64,"y":50.3},{"T":"150°C","x":4.67,"y":49.7},
      {"T":"150°C","x":4.61,"y":49.0},{"T":"150°C","x":4.65,"y":48.3},{"T":"150°C","x":4.68,"y":47.7},
      {"T":"150°C","x":4.62,"y":47.0},{"T":"150°C","x":4.65,"y":46.3},{"T":"150°C","x":4.68,"y":45.7},
      {"T":"150°C","x":4.62,"y":45.0},{"T":"150°C","x":4.66,"y":44.3},{"T":"150°C","x":4.69,"y":43.7},
      {"T":"150°C","x":4.63,"y":43.0},{"T":"150°C","x":4.66,"y":42.3},{"T":"150°C","x":4.69,"y":41.7},
      {"T":"150°C","x":4.63,"y":41.0},{"T":"150°C","x":4.66,"y":40.3},{"T":"150°C","x":4.69,"y":39.7},
      {"T":"150°C","x":4.63,"y":39.0},{"T":"150°C","x":4.67,"y":38.3},{"T":"150°C","x":4.70,"y":37.7},
      {"T":"150°C","x":4.63,"y":37.0},{"T":"150°C","x":4.67,"y":36.3},{"T":"150°C","x":4.70,"y":35.7},
      {"T":"150°C","x":4.64,"y":35.0},{"T":"150°C","x":4.67,"y":34.3},{"T":"150°C","x":4.70,"y":33.7},
      {"T":"150°C","x":4.64,"y":33.0},{"T":"150°C","x":4.67,"y":32.3},{"T":"150°C","x":4.70,"y":31.7},
      {"T":"150°C","x":4.64,"y":31.0},{"T":"150°C","x":4.68,"y":30.3},{"T":"150°C","x":4.71,"y":29.7},
      {"T":"150°C","x":4.64,"y":29.0},{"T":"150°C","x":4.68,"y":28.3},{"T":"150°C","x":4.71,"y":27.7},
      {"T":"150°C","x":4.65,"y":27.0},{"T":"150°C","x":4.68,"y":26.3},{"T":"150°C","x":4.71,"y":25.7},
      {"T":"150°C","x":4.65,"y":25.0},{"T":"150°C","x":4.68,"y":24.3},{"T":"150°C","x":4.71,"y":23.7},
      {"T":"150°C","x":4.66,"y":23.0},{"T":"150°C","x":4.69,"y":22.3},{"T":"150°C","x":4.72,"y":21.7},
      {"T":"150°C","x":4.66,"y":21.0},{"T":"150°C","x":4.69,"y":20.3},{"T":"150°C","x":4.72,"y":19.7},
      {"T":"150°C","x":4.66,"y":19.0},{"T":"150°C","x":4.70,"y":18.3},{"T":"150°C","x":4.73,"y":17.7},
      {"T":"150°C","x":4.66,"y":17.0},{"T":"150°C","x":4.70,"y":16.3},{"T":"150°C","x":4.73,"y":15.7},
      {"T":"150°C","x":4.66,"y":15.0},{"T":"150°C","x":4.69,"y":14.3},{"T":"150°C","x":4.72,"y":13.7},
      {"T":"150°C","x":4.66,"y":13.0},{"T":"150°C","x":4.69,"y":12.3},{"T":"150°C","x":4.72,"y":12.0},
      {"T":"150°C","x":4.73,"y":23.5},{"T":"150°C","x":4.74,"y":21.5},{"T":"150°C","x":4.74,"y":19.0},{"T":"150°C","x":4.73,"y":16.5},{"T":"150°C","x":4.73,"y":14.5},
      {"T":"150°C","x":4.50,"y":62.65},{"T":"150°C","x":4.535,"y":62.0},{"T":"150°C","x":4.54,"y":60.65},{"T":"150°C","x":4.575,"y":60.0},{"T":"150°C","x":4.56,"y":58.65},{"T":"150°C","x":4.595,"y":58.0},{"T":"150°C","x":4.58,"y":56.65},{"T":"150°C","x":4.615,"y":56.0},{"T":"150°C","x":4.60,"y":54.65},{"T":"150°C","x":4.635,"y":54.0},{"T":"150°C","x":4.61,"y":52.65},{"T":"150°C","x":4.645,"y":52.0},{"T":"150°C","x":4.62,"y":50.65},{"T":"150°C","x":4.655,"y":50.0},{"T":"150°C","x":4.625,"y":48.65},{"T":"150°C","x":4.66,"y":48.0},{"T":"150°C","x":4.63,"y":46.65},{"T":"150°C","x":4.665,"y":46.0},{"T":"150°C","x":4.635,"y":44.65},{"T":"150°C","x":4.67,"y":44.0},{"T":"150°C","x":4.64,"y":42.65},{"T":"150°C","x":4.675,"y":42.0},{"T":"150°C","x":4.64,"y":40.65},{"T":"150°C","x":4.675,"y":40.0},{"T":"150°C","x":4.645,"y":38.65},{"T":"150°C","x":4.68,"y":38.0},{"T":"150°C","x":4.645,"y":36.65},{"T":"150°C","x":4.68,"y":36.0},{"T":"150°C","x":4.65,"y":34.65},{"T":"150°C","x":4.685,"y":34.0},{"T":"150°C","x":4.65,"y":32.65},{"T":"150°C","x":4.685,"y":32.0},{"T":"150°C","x":4.655,"y":30.65},{"T":"150°C","x":4.69,"y":30.0},{"T":"150°C","x":4.655,"y":28.65},{"T":"150°C","x":4.69,"y":28.0},{"T":"150°C","x":4.66,"y":26.65},{"T":"150°C","x":4.695,"y":26.0},{"T":"150°C","x":4.66,"y":24.65},{"T":"150°C","x":4.695,"y":24.0},{"T":"150°C","x":4.67,"y":22.65},{"T":"150°C","x":4.705,"y":22.0},{"T":"150°C","x":4.67,"y":20.65},{"T":"150°C","x":4.705,"y":20.0},{"T":"150°C","x":4.675,"y":18.65},{"T":"150°C","x":4.71,"y":18.0},{"T":"150°C","x":4.675,"y":16.65},{"T":"150°C","x":4.71,"y":16.0},{"T":"150°C","x":4.67,"y":14.65},{"T":"150°C","x":4.705,"y":14.0},{"T":"150°C","x":4.67,"y":12.65},{"T":"150°C","x":4.705,"y":12.5}
    ],
    "asoi": [
      {"T":"25°C","x":1.30,"a":0.2},{"T":"25°C","x":2.0,"a":0.5},{"T":"25°C","x":2.5,"a":0.8},{"T":"25°C","x":2.8,"a":1.1},{"T":"25°C","x":3.0,"a":1.5},{"T":"25°C","x":3.2,"a":2.2},{"T":"25°C","x":3.35,"a":3.3},{"T":"25°C","x":3.42,"a":4.5},{"T":"25°C","x":3.46,"a":6.5},{"T":"25°C","x":3.48,"a":9},{"T":"25°C","x":3.48,"a":20},{"T":"25°C","x":3.48,"a":60},{"T":"25°C","x":3.48,"a":100},{"T":"25°C","x":3.48,"a":140},
      {"T":"75°C","x":1.30,"a":0.2},{"T":"75°C","x":2.0,"a":0.5},{"T":"75°C","x":2.5,"a":0.9},{"T":"75°C","x":3.0,"a":1.6},{"T":"75°C","x":3.3,"a":2.3},{"T":"75°C","x":3.45,"a":3.7},{"T":"75°C","x":3.68,"a":5.9},{"T":"75°C","x":3.79,"a":7.4},{"T":"75°C","x":3.81,"a":10},{"T":"75°C","x":3.81,"a":12},{"T":"75°C","x":3.78,"a":19},{"T":"75°C","x":3.75,"a":30},{"T":"75°C","x":3.72,"a":48},{"T":"75°C","x":3.66,"a":80},{"T":"75°C","x":3.63,"a":100},{"T":"75°C","x":3.60,"a":125},{"T":"75°C","x":3.59,"a":140},
      {"T":"100°C","x":1.30,"a":0.2},{"T":"100°C","x":2.0,"a":0.5},{"T":"100°C","x":2.5,"a":0.9},{"T":"100°C","x":3.0,"a":1.5},{"T":"100°C","x":3.5,"a":2.4},{"T":"100°C","x":3.8,"a":3.3},{"T":"100°C","x":4.02,"a":5.2},{"T":"100°C","x":4.23,"a":7.4},{"T":"100°C","x":4.37,"a":11.8},{"T":"100°C","x":4.43,"a":19},{"T":"100°C","x":4.47,"a":30},{"T":"100°C","x":4.48,"a":60},{"T":"100°C","x":4.49,"a":100},{"T":"100°C","x":4.49,"a":140},
      {"T":"125°C","x":1.30,"a":0.2},{"T":"125°C","x":2.0,"a":0.5},{"T":"125°C","x":2.5,"a":0.9},{"T":"125°C","x":3.0,"a":1.5},{"T":"125°C","x":3.5,"a":2.4},{"T":"125°C","x":3.9,"a":3.4},{"T":"125°C","x":4.2,"a":4.5},{"T":"125°C","x":4.4,"a":6.0},{"T":"125°C","x":4.52,"a":8.5},{"T":"125°C","x":4.57,"a":10.5},{"T":"125°C","x":4.59,"a":14.6},{"T":"125°C","x":4.63,"a":20},{"T":"125°C","x":4.66,"a":30},{"T":"125°C","x":4.68,"a":60},{"T":"125°C","x":4.69,"a":100},{"T":"125°C","x":4.695,"a":140},
      {"T":"150°C","x":1.28,"a":0.2},{"T":"150°C","x":2.0,"a":0.6},{"T":"150°C","x":2.5,"a":1.0},{"T":"150°C","x":3.0,"a":1.5},{"T":"150°C","x":3.5,"a":2.3},{"T":"150°C","x":3.9,"a":3.1},{"T":"150°C","x":4.2,"a":4.2},{"T":"150°C","x":4.37,"a":5.0},{"T":"150°C","x":4.5,"a":6.5},{"T":"150°C","x":4.6,"a":9},{"T":"150°C","x":4.64,"a":12},{"T":"150°C","x":4.66,"a":18},{"T":"150°C","x":4.68,"a":30},{"T":"150°C","x":4.69,"a":60},{"T":"150°C","x":4.69,"a":100},{"T":"150°C","x":4.70,"a":140}
    ]
  },
  "layer": [
    {
      "data": {"name": "pts"},
      "mark": {"type": "point", "filled": false, "strokeWidth": 2.2, "opacity": 1},
      "encoding": {
        "x": {"field": "x", "type": "quantitative", "scale": {"domain": [0, 5], "nice": false},
          "axis": {"orient": "bottom", "values": [0, 1, 2, 3, 4, 5], "tickSize": 9, "labelPadding": 12, "labelFlush": false, "title": "Spreading factor", "titleFontSize": 38, "titlePadding": 5}},
        "y": {"field": "y", "type": "quantitative", "scale": {"domain": [0, 80], "nice": false},
          "axis": {"orient": "left", "values": [0, 10, 20, 30, 40, 50, 60, 70, 80], "tickSize": 9, "labelPadding": 18, "labelFlush": false, "title": "Contact angle (°)", "titlePadding": 14}},
        "color": {"field": "T", "type": "nominal",
          "scale": {"domain": ["25°C", "75°C", "100°C", "125°C", "150°C"], "range": ["#92D050", "#FFC000", "#00B0F0", "#111111", "#FF0000"]},
          "legend": {"orient": "none", "legendX": 73, "legendY": 462, "title": null, "padding": 0, "labelFont": "Liberation Serif", "labelFontSize": 21, "labelColor": "#333", "symbolSize": 70, "symbolStrokeWidth": 2, "labelOffset": 20, "rowPadding": 4}},
        "shape": {"field": "T", "type": "nominal",
          "scale": {"domain": ["25°C", "75°C", "100°C", "125°C", "150°C"], "range": ["M-1,0L1,0M0,-1L0,1", "square", "triangle-up", "M-0.8,-0.8L0.8,0.8M-0.8,0.8L0.8,-0.8", "circle"]},
          "legend": {"orient": "none", "legendX": 73, "legendY": 462, "title": null, "padding": 0, "labelFont": "Liberation Serif", "labelFontSize": 21, "labelColor": "#333", "symbolSize": 70, "symbolStrokeWidth": 2, "labelOffset": 20, "rowPadding": 4}},
        "size": {"field": "T", "type": "nominal",
          "scale": {"domain": ["25°C", "75°C", "100°C", "125°C", "150°C"], "range": [81, 90, 90, 110, 110]}, "legend": null}
      }
    },
    {
      "data": {"values": [{"x": 0, "y": 0}]},
      "mark": {"type": "point", "opacity": 0},
      "encoding": {
        "x": {"field": "x", "type": "quantitative", "scale": {"domain": [0, 5], "nice": false},
          "axis": {"orient": "bottom", "values": [0, 0.2, 0.4, 0.6, 0.8, 1, 1.2, 1.4, 1.6, 1.8, 2, 2.2, 2.4, 2.6, 2.8, 3, 3.2, 3.4, 3.6, 3.8, 4, 4.2, 4.4, 4.6, 4.8, 5], "tickSize": -7, "tickWidth": 2.5, "labels": false, "domain": false, "title": null}},
        "y": {"field": "y", "type": "quantitative", "scale": {"domain": [0, 80], "nice": false},
          "axis": {"orient": "left", "values": [0,1,2,3,4,5,6,7,8,9,10,11,12,13,14,15,16,17,18,19,20,21,22,23,24,25,26,27,28,29,30,31,32,33,34,35,36,37,38,39,40,41,42,43,44,45,46,47,48,49,50,51,52,53,54,55,56,57,58,59,60,61,62,63,64,65,66,67,68,69,70,71,72,73,74,75,76,77,78,79,80], "tickSize": -7, "tickWidth": 2.5, "labels": false, "domain": false, "title": null}}
      }
    },
    {
      "data": {"name": "asoi"},
      "mark": {"type": "line", "clip": true},
      "encoding": {
        "x": {"field": "x", "type": "quantitative", "scale": {"domain": [0, 5], "nice": false}, "axis": null},
        "y": {"field": "a", "type": "quantitative", "scale": {"domain": [0, 140], "nice": false},
          "axis": {"orient": "right", "values": [0, 20, 40, 60, 80, 100, 120, 140], "tickSize": 9, "labelPadding": 17, "labelFlush": false, "title": "ASOI (ms)", "titleAngle": 270, "titleBaseline": "top", "titlePadding": -10}},
        "color": {"field": "T", "type": "nominal",
          "scale": {"domain": ["25°C", "75°C", "100°C", "125°C", "150°C"], "range": ["#92D050", "#FFC000", "#00B0F0", "#111111", "#FF0000"]}, "legend": null},
        "strokeDash": {"field": "T", "type": "nominal",
          "scale": {"domain": ["25°C", "75°C", "100°C", "125°C", "150°C"], "range": [[12, 4, 3, 4], [8, 5], [2.5, 3], [2.5, 7], [1, 0]]}, "legend": null},
        "size": {"field": "T", "type": "nominal",
          "scale": {"domain": ["25°C", "75°C", "100°C", "125°C", "150°C"], "range": [2.5, 2.5, 2.5, 3, 3.5]}, "legend": null},
        "order": {"field": "a", "type": "quantitative"}
      }
    },
    {
      "data": {"values": [{"x": 0, "a": 0}]},
      "mark": {"type": "point", "opacity": 0},
      "encoding": {
        "x": {"field": "x", "type": "quantitative", "scale": {"domain": [0, 5], "nice": false}, "axis": null},
        "y": {"field": "a", "type": "quantitative", "scale": {"domain": [0, 140], "nice": false},
          "axis": {"orient": "right", "values": [0, 10, 20, 30, 40, 50, 60, 70, 80, 90, 100, 110, 120, 130, 140], "tickSize": -7, "tickWidth": 2.5, "labels": false, "domain": false, "title": null}}
      }
    },
    {
      "data": {"values": [
        {"x": 0.79, "y": 70.0, "label": "Contact"},
        {"x": 0.79, "y": 65.3, "label": "angle"},
        {"x": 1.87, "y": 2.6, "label": "ASOI"}
      ]},
      "mark": {"type": "text", "align": "left", "baseline": "alphabetic", "font": "Lato", "fontSize": 31, "color": "#333"},
      "encoding": {
        "x": {"field": "x", "type": "quantitative", "scale": {"domain": [0, 5], "nice": false}, "axis": null},
        "y": {"field": "y", "type": "quantitative", "scale": {"domain": [0, 80], "nice": false}, "axis": null},
        "text": {"field": "label"}
      }
    },
    {
      "data": {"values": [
        {"x": 2.12, "y": 32.75, "label": "Time increases"},
        {"x": 2.12, "y": 29.0, "label": "clock-wisely"}
      ]},
      "mark": {"type": "text", "align": "left", "baseline": "alphabetic", "font": "Liberation Serif", "fontSize": 27, "color": "#333"},
      "encoding": {
        "x": {"field": "x", "type": "quantitative", "scale": {"domain": [0, 5], "nice": false}, "axis": null},
        "y": {"field": "y", "type": "quantitative", "scale": {"domain": [0, 80], "nice": false}, "axis": null},
        "text": {"field": "label"}
      }
    },
    {
      "data": {"values": [
        {"x": 0.25, "x2": 0.73, "y": 72.25},
        {"x": 2.43, "x2": 2.86, "y": 4.25}
      ]},
      "mark": {"type": "rule", "color": "#222", "strokeWidth": 2},
      "encoding": {
        "x": {"field": "x", "type": "quantitative", "scale": {"domain": [0, 5], "nice": false}, "axis": null},
        "x2": {"field": "x2"},
        "y": {"field": "y", "type": "quantitative", "scale": {"domain": [0, 80], "nice": false}, "axis": null}
      }
    },
    {
      "data": {"values": [{"x": 0.248, "y": 72.25}]},
      "mark": {"type": "point", "shape": "M-1,0L1,-0.55L1,0.55Z", "filled": true, "size": 200, "color": "#222", "opacity": 1},
      "encoding": {
        "x": {"field": "x", "type": "quantitative", "scale": {"domain": [0, 5], "nice": false}, "axis": null},
        "y": {"field": "y", "type": "quantitative", "scale": {"domain": [0, 80], "nice": false}, "axis": null}
      }
    },
    {
      "data": {"values": [{"x": 2.862, "y": 4.25}]},
      "mark": {"type": "point", "shape": "M1,0L-1,-0.55L-1,0.55Z", "filled": true, "size": 200, "color": "#222", "opacity": 1},
      "encoding": {
        "x": {"field": "x", "type": "quantitative", "scale": {"domain": [0, 5], "nice": false}, "axis": null},
        "y": {"field": "y", "type": "quantitative", "scale": {"domain": [0, 80], "nice": false}, "axis": null}
      }
    },
    {
      "data": {"values": [
        {"x": 2.17, "y": 38.8}, {"x": 2.41, "y": 43.0}, {"x": 2.69, "y": 44.9}, {"x": 2.99, "y": 43.8},
        {"x": 3.21, "y": 41.3}, {"x": 3.33, "y": 37.5}, {"x": 3.37, "y": 33.8}, {"x": 3.38, "y": 29.5}
      ]},
      "mark": {"type": "line", "interpolate": "catmull-rom", "color": "#333", "strokeWidth": 1.5},
      "encoding": {
        "x": {"field": "x", "type": "quantitative", "scale": {"domain": [0, 5], "nice": false}, "axis": null},
        "y": {"field": "y", "type": "quantitative", "scale": {"domain": [0, 80], "nice": false}, "axis": null}
      }
    },
    {
      "data": {"values": [{"x": 3.38, "y": 28.06}]},
      "mark": {"type": "point", "shape": "M0,1L-0.55,-1L0.55,-1Z", "filled": true, "size": 120, "color": "#222", "opacity": 1},
      "encoding": {
        "x": {"field": "x", "type": "quantitative", "scale": {"domain": [0, 5], "nice": false}, "axis": null},
        "y": {"field": "y", "type": "quantitative", "scale": {"domain": [0, 80], "nice": false}, "axis": null}
      }
    }
  ],
  "resolve": {
    "scale": {"x": "independent", "y": "independent", "color": "independent", "size": "independent", "strokeDash": "independent", "shape": "independent"},
    "axis": {"x": "independent", "y": "independent"}
  }
}
